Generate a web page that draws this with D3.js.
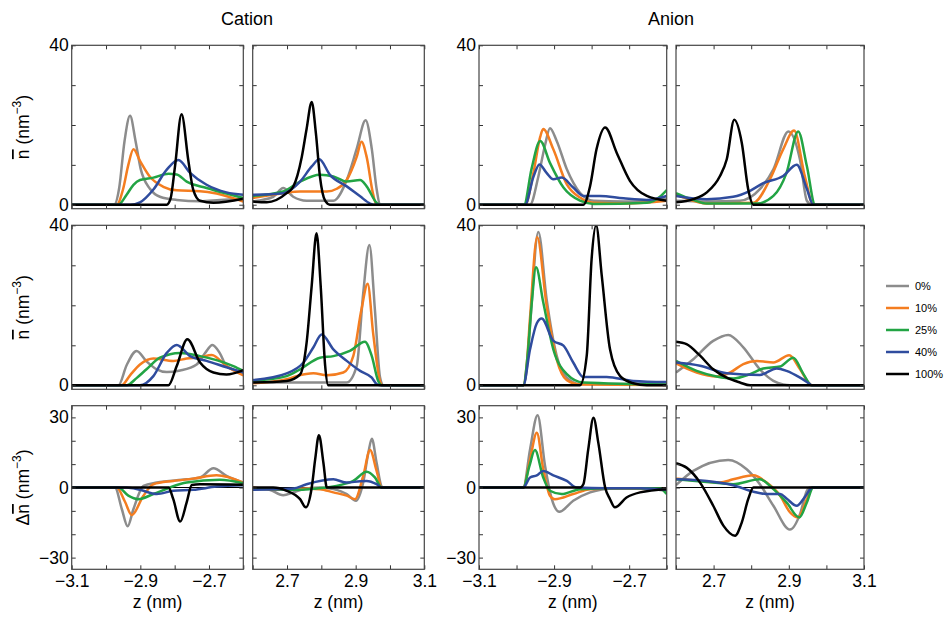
<!DOCTYPE html>
<html><head><meta charset="utf-8">
<script src="https://cdn.jsdelivr.net/npm/d3@7"></script>
<style>
body{margin:0;background:#fff;}
svg{font-family:"Liberation Sans",Arial,Helvetica,sans-serif;}
</style></head>
<body>
<svg id="chart" width="950" height="618"></svg>
<script>
// ---------- data ----------
const seriesLabels = ["0%", "10%", "25%", "40%", "100%"];
const seriesColors = ["#8c8c8c", "#f47d20", "#22a444", "#2f4c9e", "#000000"];
const groupTitles = ["Cation", "Anion"];
const xTicksLeft = [-3.1, -3.0, -2.9, -2.8, -2.7, -2.6];
const xTicksRight = [2.6, 2.7, 2.8, 2.9, 3.0, 3.1];
const xLabelsLeft = [-3.1, -2.9, -2.7];
const xLabelsRight = [2.7, 2.9, 3.1];
const yTicksDensity = [0, 10, 20, 30, 40];
const yLabelsDensity = [0, 40];
const yTicksDiff = [-30, -20, -10, 0, 10, 20, 30];
const yLabelsDiff = [-30, 0, 30];

// each panel: [0%, 10%, 25%, 40%, 100%], points [z, value]
const cationRow1Left = [
 [[-3.1,0],[-2.976,0],[-2.962,4],[-2.946,16],[-2.93,22.3],[-2.914,16],[-2.899,9],[-2.872,4],[-2.843,2],[-2.794,1.2],[-2.726,0.9],[-2.668,1.2],[-2.6,1.5]],
 [[-3.1,0],[-2.969,0],[-2.95,4],[-2.935,10],[-2.92,13.9],[-2.901,11],[-2.872,7],[-2.833,4.5],[-2.794,3.6],[-2.726,3.4],[-2.678,2.8],[-2.6,0.8]],
 [[-3.1,0],[-2.964,0],[-2.94,2.5],[-2.92,5],[-2.901,6.2],[-2.862,6.8],[-2.818,7.8],[-2.794,7.6],[-2.765,5.8],[-2.707,4.2],[-2.649,2.8],[-2.6,1.7]],
 [[-3.1,0],[-2.93,0],[-2.901,0.6],[-2.862,3.8],[-2.823,8.8],[-2.789,11.2],[-2.755,8],[-2.707,5],[-2.649,3.1],[-2.6,2.5]],
 [[-3.1,0],[-2.823,0],[-2.812,1.5],[-2.799,9.6],[-2.78,22.7],[-2.76,11],[-2.746,3.8],[-2.726,1],[-2.687,0.5],[-2.6,1.5]]
];
const cationRow1Right = [
 [[2.6,0.8],[2.66,2],[2.689,4.2],[2.718,2],[2.757,1],[2.835,1],[2.874,6.2],[2.903,14],[2.929,21.2],[2.947,14],[2.961,4],[2.971,0],[3.1,0]],
 [[2.6,1.7],[2.689,2.9],[2.738,3.3],[2.816,3.3],[2.845,4],[2.874,6.2],[2.903,12],[2.917,15.8],[2.932,12],[2.95,3],[2.961,0],[3.1,0]],
 [[2.6,2.2],[2.689,3.3],[2.738,5.8],[2.796,7.5],[2.835,7.1],[2.874,5.8],[2.913,6.2],[2.932,4.6],[2.961,0.5],[2.971,0],[3.1,0]],
 [[2.6,2.5],[2.689,2.9],[2.738,5.8],[2.772,9.6],[2.794,11.4],[2.825,7.5],[2.874,4.6],[2.913,2.1],[2.942,0.3],[2.952,0],[3.1,0]],
 [[2.6,0.8],[2.641,0.6],[2.699,2.9],[2.718,4.5],[2.743,12],[2.757,19],[2.772,25.8],[2.784,18],[2.796,7],[2.811,1],[2.825,0],[3.1,0]]
];
const anionRow1Left = [
 [[-3.1,0],[-2.964,0],[-2.942,7],[-2.924,15],[-2.911,19.2],[-2.893,16],[-2.866,8.9],[-2.831,3],[-2.795,1],[-2.715,0.8],[-2.653,0.9],[-2.6,1.5]],
 [[-3.1,0],[-2.977,0],[-2.955,8],[-2.937,17],[-2.929,19],[-2.902,13.9],[-2.866,5.1],[-2.831,1.8],[-2.795,0.5],[-2.707,0.3],[-2.6,1]],
 [[-3.1,0],[-2.98,0],[-2.96,9],[-2.937,16],[-2.911,10.5],[-2.875,4.3],[-2.831,1],[-2.795,0.2],[-2.653,0.5],[-2.618,2],[-2.6,3.7]],
 [[-3.1,0],[-2.977,0],[-2.955,7],[-2.939,10.1],[-2.92,8],[-2.902,6.4],[-2.88,6.8],[-2.849,4.3],[-2.822,2.2],[-2.778,2.2],[-2.715,1.6],[-2.653,1.2],[-2.6,2.2]],
 [[-3.1,0],[-2.822,0],[-2.804,4.7],[-2.787,13.9],[-2.764,19.4],[-2.733,13],[-2.698,6],[-2.653,2.2],[-2.6,1]]
];
const anionRow1Right = [
 [[2.6,1],[2.682,0.8],[2.77,1],[2.823,3.9],[2.859,8.9],[2.899,18.4],[2.93,11.2],[2.948,1],[2.961,0],[3.1,0]],
 [[2.6,2.5],[2.646,1],[2.682,0.3],[2.806,0.5],[2.85,6.4],[2.885,13.9],[2.914,18.6],[2.943,7],[2.965,0],[3.1,0]],
 [[2.6,2.9],[2.646,1.2],[2.682,0.3],[2.815,0.3],[2.859,2.2],[2.894,8],[2.925,18.4],[2.948,9.7],[2.97,0],[3.1,0]],
 [[2.6,2.2],[2.682,1.4],[2.752,2],[2.797,3.5],[2.832,5.4],[2.885,7.2],[2.921,10],[2.948,4],[2.965,0],[3.1,0]],
 [[2.6,0.6],[2.646,1.4],[2.682,3.1],[2.717,7.2],[2.735,11.4],[2.755,21.3],[2.775,15.5],[2.792,3.9],[2.806,0],[3.1,0]]
];
const cationRow2Left = [
 [[-3.1,0],[-2.964,0],[-2.94,5],[-2.911,8.6],[-2.882,6],[-2.852,4],[-2.823,3.3],[-2.784,3.7],[-2.736,5.2],[-2.712,8],[-2.69,10.1],[-2.668,8],[-2.649,4.8],[-2.6,3.2]],
 [[-3.1,0],[-2.955,0],[-2.93,2.5],[-2.901,5.2],[-2.862,6.7],[-2.804,6.1],[-2.765,6.7],[-2.726,7],[-2.692,7.6],[-2.649,4.8],[-2.6,2.5]],
 [[-3.1,0],[-2.94,0],[-2.911,1.8],[-2.882,4],[-2.843,6.9],[-2.784,8.1],[-2.726,7.3],[-2.678,6.3],[-2.629,4.8],[-2.6,3.6]],
 [[-3.1,0],[-2.901,0],[-2.862,2.3],[-2.823,8.1],[-2.794,10.1],[-2.755,7.3],[-2.707,6.1],[-2.649,4.5],[-2.6,3.2]],
 [[-3.1,0],[-2.818,0],[-2.794,4.8],[-2.763,11.5],[-2.726,5.7],[-2.687,3.2],[-2.649,2.7],[-2.6,3.8]]
];
const cationRow2Right = [
 [[2.6,0.7],[2.874,0.7],[2.903,4.8],[2.922,23],[2.94,35.1],[2.956,19],[2.971,2],[2.981,0],[3.1,0]],
 [[2.6,0.5],[2.699,1.5],[2.728,2.3],[2.777,3],[2.816,2.5],[2.864,3.2],[2.893,7.3],[2.917,19],[2.935,25.4],[2.951,13],[2.971,1],[2.976,0],[3.1,0]],
 [[2.6,1.1],[2.699,2.3],[2.738,4],[2.796,6.9],[2.835,7.3],[2.883,8.6],[2.927,10.9],[2.947,7.3],[2.966,1],[2.976,0],[3.1,0]],
 [[2.6,1.3],[2.699,3],[2.748,5.7],[2.777,9.5],[2.801,12.7],[2.835,9],[2.874,6.1],[2.913,3.6],[2.947,1.9],[2.961,0.3],[2.971,0],[3.1,0]],
 [[2.6,0.7],[2.699,1.1],[2.738,2.7],[2.757,10.6],[2.772,25],[2.786,38],[2.798,25],[2.811,5],[2.82,0],[3.1,0]]
];
const anionRow2Left = [
 [[-3.1,0],[-2.982,0],[-2.973,4],[-2.964,14.9],[-2.942,38.3],[-2.92,21.6],[-2.893,7.4],[-2.866,1.9],[-2.831,0.3],[-2.6,0.3]],
 [[-3.1,0],[-2.982,0],[-2.973,5],[-2.964,17],[-2.945,37],[-2.92,20],[-2.893,6.5],[-2.866,1.3],[-2.831,0.2],[-2.6,0.1]],
 [[-3.1,0],[-2.982,0],[-2.971,7],[-2.96,20],[-2.948,29.5],[-2.929,20.8],[-2.902,9],[-2.866,2.8],[-2.822,0.7],[-2.6,0.2]],
 [[-3.1,0],[-2.982,0],[-2.964,9],[-2.946,15.5],[-2.933,16.7],[-2.902,11.1],[-2.875,9.9],[-2.849,5.7],[-2.822,2.1],[-2.76,2.1],[-2.689,1.1],[-2.6,0.8]],
 [[-3.1,0],[-2.831,0],[-2.813,7.4],[-2.8,31.6],[-2.788,40],[-2.773,27.4],[-2.751,9],[-2.724,2.3],[-2.689,0.5],[-2.653,0],[-2.6,0]]
];
const anionRow2Right = [
 [[2.6,3.2],[2.646,6.5],[2.699,11.1],[2.739,12.6],[2.779,9.5],[2.823,4],[2.859,1.1],[2.885,0.2],[2.903,0],[3.1,0]],
 [[2.6,5.5],[2.655,3.2],[2.708,2.2],[2.744,3.2],[2.779,5.3],[2.815,6.1],[2.859,5.7],[2.901,7.5],[2.93,4],[2.956,0.3],[2.961,0],[3.1,0]],
 [[2.6,6.1],[2.655,3.6],[2.708,2.2],[2.752,1.7],[2.797,2.8],[2.832,4.2],[2.877,4.7],[2.912,6.9],[2.939,2.8],[2.961,0],[3.1,0]],
 [[2.6,5.7],[2.664,4.9],[2.735,3],[2.823,2.6],[2.868,4.2],[2.894,3.6],[2.93,1.9],[2.956,0.3],[2.961,0],[3.1,0]],
 [[2.6,10.9],[2.628,10.3],[2.664,7.4],[2.699,4],[2.735,1.9],[2.77,0.7],[2.797,0],[3.1,0]]
];
const cationDiffLeft = [
 [[-3.1,0],[-2.974,0],[-2.954,-9.2],[-2.937,-16.6],[-2.92,-9.2],[-2.891,0.7],[-2.852,2.1],[-2.765,3.5],[-2.726,4.3],[-2.687,8.2],[-2.649,5],[-2.6,2.1]],
 [[-3.1,0],[-2.969,0],[-2.945,-6],[-2.925,-11.8],[-2.891,-3.5],[-2.862,1.4],[-2.804,2.8],[-2.746,3.8],[-2.678,5.2],[-2.6,2.1]],
 [[-3.1,0],[-2.964,0],[-2.935,-3.5],[-2.906,-5],[-2.862,-2.8],[-2.814,0],[-2.765,2.1],[-2.668,3.3],[-2.6,1.8]],
 [[-3.1,0],[-2.94,0],[-2.901,-1],[-2.852,-2.8],[-2.804,-1.4],[-2.746,-1],[-2.678,0.4],[-2.6,1]],
 [[-3.1,0],[-2.818,0],[-2.804,-5],[-2.784,-14.6],[-2.765,-6.4],[-2.75,1.1],[-2.726,1.4],[-2.6,1.2]]
];
const cationDiffRight = [
 [[2.6,-0.7],[2.641,-0.7],[2.689,-3.3],[2.718,-2.1],[2.757,-0.4],[2.796,0],[2.835,-0.7],[2.874,-2.8],[2.901,-5.7],[2.922,2.1],[2.937,14.9],[2.947,20.9],[2.961,10.6],[2.976,0.4],[2.981,0],[3.1,0]],
 [[2.6,0],[2.689,-1],[2.738,-0.4],[2.796,-0.7],[2.835,-2.1],[2.874,-3.5],[2.898,-5],[2.922,5],[2.942,16],[2.961,7.1],[2.976,0],[3.1,0]],
 [[2.6,-0.4],[2.738,-1],[2.786,-0.4],[2.854,1],[2.893,2.8],[2.932,6.7],[2.956,4.3],[2.976,0],[3.1,0]],
 [[2.6,-1],[2.718,-0.4],[2.757,1.4],[2.835,3.5],[2.874,2.1],[2.913,2.7],[2.932,2.8],[2.961,1.4],[2.976,0],[3.1,0]],
 [[2.6,0],[2.66,0],[2.699,-1.4],[2.738,-5],[2.755,-8.5],[2.772,0],[2.782,12],[2.793,22.4],[2.806,10.6],[2.816,0],[3.1,0]]
];
const anionDiffLeft = [
 [[-3.1,0],[-2.982,0],[-2.964,16.3],[-2.944,30.9],[-2.924,9.2],[-2.906,-5],[-2.886,-10.4],[-2.849,-5.7],[-2.804,-2.1],[-2.742,-0.4],[-2.671,-0.4],[-2.6,-1.4]],
 [[-3.1,0],[-2.982,0],[-2.964,12],[-2.946,23.4],[-2.929,8],[-2.911,-3.5],[-2.898,-5],[-2.849,-2.8],[-2.804,-0.7],[-2.742,-0.4],[-2.6,-0.7]],
 [[-3.1,0],[-2.982,0],[-2.966,9],[-2.951,16],[-2.929,4.3],[-2.911,-1.4],[-2.88,-2.8],[-2.831,-0.7],[-2.742,-0.3],[-2.618,-0.4],[-2.6,-2.8]],
 [[-3.1,0],[-2.982,0],[-2.964,4.3],[-2.946,5.2],[-2.929,7.1],[-2.902,5.2],[-2.866,2.8],[-2.84,0],[-2.76,-0.3],[-2.671,-0.3],[-2.6,-1]],
 [[-3.1,0],[-2.831,0],[-2.822,1.4],[-2.809,16.3],[-2.795,29.8],[-2.782,19],[-2.764,0],[-2.751,-5],[-2.738,-8.5],[-2.707,-4.3],[-2.671,-2.1],[-2.6,-0.7]]
];
const anionDiffRight = [
 [[2.6,1],[2.646,7.1],[2.739,11.8],[2.788,7.8],[2.823,1.4],[2.859,-7.8],[2.903,-18],[2.93,-11.3],[2.948,-1.4],[2.956,0],[3.1,0]],
 [[2.6,3.8],[2.664,2.8],[2.717,2.1],[2.752,3.5],[2.806,5.2],[2.841,2.1],[2.877,-3.5],[2.903,-10.6],[2.924,-12.8],[2.948,-5],[2.963,0],[3.1,0]],
 [[2.6,3.5],[2.682,2.4],[2.752,1.4],[2.823,3.5],[2.859,-0.7],[2.894,-6.4],[2.928,-12.8],[2.948,-6.4],[2.965,0],[3.1,0]],
 [[2.6,3.5],[2.682,2.8],[2.752,1],[2.806,-1.8],[2.841,-2.8],[2.877,-2.8],[2.894,-4.7],[2.921,-7.8],[2.943,-4],[2.963,0],[3.1,0]],
 [[2.6,10.4],[2.628,8.5],[2.664,2.1],[2.699,-7.8],[2.726,-16.3],[2.757,-20.6],[2.775,-14.9],[2.792,-5],[2.806,0],[3.1,0]]
];

// ---------- layout ----------
const svg = d3.select("#chart");
const colX = [[71.7, 243.3], [252.7, 424.3], [479, 666.7], [676, 864]];
const rowY = [[45.3, 208.7], [225.3, 389.3], [405.7, 569.3]];
const panels = [
  [cationRow1Left, cationRow1Right, anionRow1Left, anionRow1Right],
  [cationRow2Left, cationRow2Right, anionRow2Left, anionRow2Right],
  [cationDiffLeft, cationDiffRight, anionDiffLeft, anionDiffRight]
];
const fs = 17.5;
const fmt = d3.format(".1f");

panels.forEach((row, ri) => {
  row.forEach((panel, ci) => {
    const isLeft = ci % 2 === 0;
    const x = d3.scaleLinear().domain(isLeft ? [-3.1, -2.6] : [2.6, 3.1]).range(colX[ci]);
    const y = d3.scaleLinear().domain(ri < 2 ? [-1, 40] : [-35, 35]).range([rowY[ri][1], rowY[ri][0]]);
    const g = svg.append("g");
    const cid = `clip${ri}${ci}`;
    svg.append("clipPath").attr("id", cid).append("rect")
      .attr("x", colX[ci][0]).attr("y", rowY[ri][0])
      .attr("width", colX[ci][1] - colX[ci][0]).attr("height", rowY[ri][1] - rowY[ri][0]);

    const plot = g.append("g").attr("clip-path", `url(#${cid})`);
    if (ri === 2) {
      plot.append("line").attr("x1", colX[ci][0]).attr("x2", colX[ci][1])
        .attr("y1", y(0)).attr("y2", y(0)).attr("stroke", "#000").attr("stroke-width", 1);
    }
    const line = d3.line().x(d => x(d[0])).y(d => y(d[1])).curve(d3.curveMonotoneX);
    panel.forEach((s, si) => {
      plot.append("path").attr("d", line(s)).attr("fill", "none")
        .attr("stroke", seriesColors[si]).attr("stroke-width", 2.5)
        .attr("stroke-linejoin", "round");
    });

    const xt = isLeft ? xTicksLeft : xTicksRight;
    const xl = isLeft ? xLabelsLeft : xLabelsRight;
    const yt = ri < 2 ? yTicksDensity : yTicksDiff;
    const yl = ri < 2 ? yLabelsDensity : yLabelsDiff;
    const showX = ri === 2;
    const showY = ci === 0 || ci === 2;

    const axB = d3.axisBottom(x).tickValues(xt).tickSize(-4).tickPadding(5)
      .tickFormat(d => (showX && xl.some(v => Math.abs(v - d) < 1e-6)) ? fmt(d) : "");
    const axT = d3.axisTop(x).tickValues(xt).tickSize(-4).tickFormat("");
    const axL = d3.axisLeft(y).tickValues(yt).tickSize(-4).tickPadding(3)
      .tickFormat(d => (showY && yl.includes(d)) ? d3.format("d")(d) : "");
    const axR = d3.axisRight(y).tickValues(yt).tickSize(-4).tickFormat("");

    const axes = [
      [axB, `translate(0,${rowY[ri][1]})`],
      [axT, `translate(0,${rowY[ri][0]})`],
      [axL, `translate(${colX[ci][0]},0)`],
      [axR, `translate(${colX[ci][1]},0)`]
    ];
    axes.forEach(([ax, tr]) => {
      const a = g.append("g").attr("transform", tr).call(ax);
      a.select(".domain").remove();
      a.selectAll("line").attr("stroke", "#333");
      a.selectAll("text").attr("font-size", fs).attr("fill", "#000")
        .attr("font-family", '"Liberation Sans",Arial,sans-serif');
    });
    g.append("rect").attr("x", colX[ci][0]).attr("y", rowY[ri][0])
      .attr("width", colX[ci][1] - colX[ci][0]).attr("height", rowY[ri][1] - rowY[ri][0])
      .attr("fill", "none").attr("stroke", "#444").attr("stroke-width", 1.2);

    if (showX) {
      svg.append("text").attr("x", (colX[ci][0] + colX[ci][1]) / 2).attr("y", 608)
        .attr("text-anchor", "middle").attr("font-size", fs).attr("fill", "#000").text("z (nm)");
    }
  });

  // y-axis title
  const cy = (rowY[ri][0] + rowY[ri][1]) / 2;
  const t = svg.append("text").attr("transform", `translate(29,${cy}) rotate(-90)`)
    .attr("text-anchor", "middle").attr("font-size", fs).attr("fill", "#000");
  if (ri === 2) t.append("tspan").text("Δ");
  t.append("tspan").attr("text-decoration", "overline").style("text-decoration", "overline").text("n");
  t.append("tspan").text(" (nm");
  t.append("tspan").attr("font-size", 12).attr("dy", -8).text("−3");
  t.append("tspan").attr("dy", 8).text(")");
});

// group titles
svg.append("text").attr("x", 247).attr("y", 25).attr("text-anchor", "middle").attr("font-size", 18).attr("fill", "#000").text(groupTitles[0]);
svg.append("text").attr("x", 671).attr("y", 25).attr("text-anchor", "middle").attr("font-size", 18).attr("fill", "#000").text(groupTitles[1]);

// legend
const leg = svg.append("g");
seriesLabels.forEach((lab, i) => {
  const yy = 286 + i * 22;
  leg.append("line").attr("x1", 886).attr("x2", 909).attr("y1", yy).attr("y2", yy)
    .attr("stroke", seriesColors[i]).attr("stroke-width", 2.5);
  leg.append("text").attr("x", 915).attr("y", yy + 4).attr("font-size", 11).attr("fill", "#000").text(lab);
});
</script>
</body></html>
